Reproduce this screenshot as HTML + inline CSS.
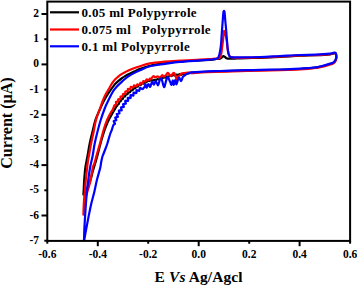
<!DOCTYPE html>
<html><head><meta charset="utf-8"><style>
html,body{margin:0;padding:0;background:#fff;}
body{width:357px;height:285px;overflow:hidden;position:relative;}
svg{position:absolute;left:0;top:0;}
text{font-family:"Liberation Serif",serif;font-weight:bold;}
</style></head><body>
<svg width="357" height="285" viewBox="0 0 357 285">
<g fill="none" stroke-linejoin="round" stroke-linecap="round" stroke-width="2.2">
<path stroke="#000" d="M83.40,194.60 C83.45,193.83 83.57,192.43 83.70,190.00 C83.83,187.57 83.93,183.67 84.20,180.00 C84.47,176.33 84.75,172.00 85.30,168.00 C85.85,164.00 86.78,160.00 87.50,156.00 C88.22,152.00 88.78,148.00 89.60,144.00 C90.42,140.00 91.43,136.00 92.40,132.00 C93.37,128.00 94.20,123.67 95.40,120.00 C96.60,116.33 98.45,112.67 99.60,110.00 C100.75,107.33 101.42,105.83 102.30,104.00 C103.18,102.17 104.02,100.58 104.90,99.00 C105.78,97.42 106.67,95.97 107.60,94.50 C108.53,93.03 109.55,91.55 110.50,90.20 C111.45,88.85 112.45,87.50 113.30,86.40 C114.15,85.30 114.73,84.53 115.60,83.60 C116.47,82.67 117.43,81.70 118.50,80.80 C119.57,79.90 120.92,78.98 122.00,78.20 C123.08,77.42 124.00,76.70 125.00,76.10 C126.00,75.50 126.50,75.35 128.00,74.60 C129.50,73.85 132.00,72.55 134.00,71.60 C136.00,70.65 137.33,69.87 140.00,68.90 C142.67,67.93 145.83,66.75 150.00,65.80 C154.17,64.85 160.00,63.92 165.00,63.20 C170.00,62.48 174.17,61.97 180.00,61.50 C185.83,61.03 194.67,60.72 200.00,60.40 C205.33,60.08 209.33,59.83 212.00,59.60 C214.67,59.37 214.67,59.17 216.00,59.00 C217.33,58.83 219.00,58.87 220.00,58.60 C221.00,58.33 221.43,57.80 222.00,57.40 C222.57,57.00 222.93,56.30 223.40,56.20 C223.87,56.10 224.28,56.47 224.80,56.80 C225.32,57.13 225.80,57.88 226.50,58.20 C227.20,58.52 227.58,58.63 229.00,58.70 C230.42,58.77 233.17,58.67 235.00,58.60 C236.83,58.53 235.83,58.43 240.00,58.30 C244.17,58.17 253.33,58.03 260.00,57.80 C266.67,57.57 273.33,57.25 280.00,56.90 C286.67,56.55 294.00,55.98 300.00,55.70 C306.00,55.42 311.00,55.43 316.00,55.20 C321.00,54.97 326.92,54.62 330.00,54.30 C333.08,53.98 333.53,53.38 334.50,53.30 C335.47,53.22 335.52,53.38 335.80,53.80 C336.08,54.22 336.15,55.02 336.20,55.80 C336.25,56.58 336.27,57.67 336.10,58.50 C335.93,59.33 335.63,60.12 335.20,60.80 C334.77,61.48 334.17,62.12 333.50,62.60 C332.83,63.08 332.43,63.27 331.20,63.70 C329.97,64.13 327.80,64.73 326.10,65.20 C324.40,65.67 322.68,66.10 321.00,66.50 C319.32,66.90 318.17,67.28 316.00,67.60 C313.83,67.92 310.67,68.17 308.00,68.40 C305.33,68.63 303.00,68.82 300.00,69.00 C297.00,69.18 293.33,69.37 290.00,69.50 C286.67,69.63 285.00,69.68 280.00,69.80 C275.00,69.92 265.00,70.10 260.00,70.20 C255.00,70.30 253.33,70.32 250.00,70.40 C246.67,70.48 244.17,70.57 240.00,70.70 C235.83,70.83 229.33,71.07 225.00,71.20 C220.67,71.33 218.17,71.35 214.00,71.50 C209.83,71.65 203.67,71.90 200.00,72.10 C196.33,72.30 194.33,72.42 192.00,72.70 C189.67,72.98 187.26,73.51 186.00,73.80 C184.74,74.09 185.00,74.39 184.46,74.42 C183.91,74.45 183.28,73.94 182.74,74.00 C182.19,74.07 181.72,74.78 181.19,74.81 C180.66,74.84 180.07,74.16 179.54,74.18 C179.00,74.21 178.52,74.91 177.97,74.96 C177.43,75.01 176.80,74.40 176.27,74.48 C175.74,74.55 175.31,75.31 174.78,75.40 C174.24,75.49 173.58,74.93 173.04,75.03 C172.51,75.14 172.12,75.93 171.59,76.04 C171.06,76.15 170.38,75.59 169.85,75.72 C169.33,75.84 168.96,76.65 168.43,76.78 C167.91,76.90 167.21,76.34 166.69,76.47 C166.17,76.61 165.83,77.42 165.30,77.57 C164.78,77.72 164.07,77.22 163.55,77.37 C163.03,77.53 162.71,78.35 162.19,78.51 C161.67,78.66 160.95,78.15 160.43,78.31 C159.91,78.46 159.58,79.28 159.06,79.43 C158.54,79.57 157.83,79.04 157.31,79.19 C156.79,79.34 156.44,80.19 155.93,80.30 C155.42,80.41 154.79,79.82 154.24,79.87 C153.69,79.91 153.17,80.59 152.63,80.60 C152.08,80.61 151.50,79.89 150.99,79.93 C150.47,79.97 150.08,80.71 149.54,80.86 C149.01,81.01 148.28,80.61 147.77,80.81 C147.27,81.01 147.03,81.85 146.52,82.07 C146.02,82.29 145.25,81.89 144.77,82.12 C144.29,82.36 144.11,83.23 143.63,83.48 C143.14,83.72 142.34,83.33 141.86,83.58 C141.38,83.82 141.22,84.70 140.74,84.96 C140.26,85.21 139.45,84.84 138.98,85.09 C138.50,85.35 138.38,86.20 137.91,86.48 C137.44,86.76 136.62,86.49 136.17,86.79 C135.71,87.08 135.64,87.96 135.19,88.26 C134.74,88.57 133.90,88.32 133.47,88.63 C133.03,88.95 133.01,89.84 132.58,90.16 C132.14,90.49 131.29,90.24 130.86,90.57 C130.42,90.90 130.42,91.79 129.99,92.12 C129.56,92.45 128.70,92.23 128.28,92.56 C127.85,92.89 127.88,93.75 127.47,94.11 C127.05,94.47 126.20,94.35 125.80,94.72 C125.41,95.09 125.49,95.96 125.10,96.34 C124.71,96.72 123.81,96.61 123.44,97.00 C123.08,97.39 123.26,98.28 122.90,98.69 C122.54,99.10 121.66,99.05 121.30,99.45 C120.95,99.85 121.12,100.67 120.78,101.11 C120.45,101.54 119.59,101.59 119.28,102.04 C118.97,102.48 119.18,103.29 118.92,103.77 C118.66,104.25 118.35,104.06 117.70,104.90 C117.05,105.74 115.90,107.37 115.00,108.80 C114.10,110.23 113.22,111.87 112.30,113.50 C111.38,115.13 110.30,117.10 109.50,118.60 C108.70,120.10 108.25,120.77 107.50,122.50 C106.75,124.23 105.80,126.75 105.00,129.00 C104.20,131.25 103.47,133.50 102.70,136.00 C101.93,138.50 101.30,140.67 100.40,144.00 C99.50,147.33 98.20,152.67 97.30,156.00 C96.40,159.33 95.78,161.33 95.00,164.00 C94.22,166.67 93.35,169.33 92.60,172.00 C91.85,174.67 91.22,177.67 90.50,180.00 C89.78,182.33 89.10,184.17 88.30,186.00 C87.50,187.83 86.48,189.57 85.70,191.00 C84.92,192.43 83.95,194.00 83.60,194.60"/>
<path stroke="#ff0000" d="M83.40,214.70 C83.45,213.25 83.57,208.78 83.70,206.00 C83.83,203.22 84.02,200.33 84.20,198.00 C84.38,195.67 84.60,194.33 84.80,192.00 C85.00,189.67 85.20,186.33 85.40,184.00 C85.60,181.67 85.72,180.67 86.00,178.00 C86.28,175.33 86.75,171.00 87.10,168.00 C87.45,165.00 87.77,162.17 88.10,160.00 C88.43,157.83 88.62,157.67 89.10,155.00 C89.58,152.33 90.25,147.83 91.00,144.00 C91.75,140.17 92.77,136.00 93.60,132.00 C94.43,128.00 94.90,124.00 96.00,120.00 C97.10,116.00 99.15,111.00 100.20,108.00 C101.25,105.00 101.57,103.93 102.30,102.00 C103.03,100.07 103.77,98.15 104.60,96.40 C105.43,94.65 106.43,93.03 107.30,91.50 C108.17,89.97 108.97,88.63 109.80,87.20 C110.63,85.77 111.43,84.18 112.30,82.90 C113.17,81.62 113.97,80.60 115.00,79.50 C116.03,78.40 117.33,77.23 118.50,76.30 C119.67,75.37 120.92,74.58 122.00,73.90 C123.08,73.22 124.00,72.72 125.00,72.20 C126.00,71.68 126.50,71.47 128.00,70.80 C129.50,70.13 132.00,68.97 134.00,68.20 C136.00,67.43 137.33,67.00 140.00,66.20 C142.67,65.40 145.83,64.15 150.00,63.40 C154.17,62.65 160.00,62.18 165.00,61.70 C170.00,61.22 174.17,60.83 180.00,60.50 C185.83,60.17 194.67,59.95 200.00,59.70 C205.33,59.45 209.33,59.17 212.00,59.00 C214.67,58.83 214.75,58.83 216.00,58.70 C217.25,58.57 218.63,58.98 219.50,58.20 C220.37,57.42 220.78,55.70 221.20,54.00 C221.62,52.30 221.73,50.00 222.00,48.00 C222.27,46.00 222.57,43.92 222.80,42.00 C223.03,40.08 223.20,38.30 223.40,36.50 C223.60,34.70 223.77,31.92 224.00,31.20 C224.23,30.48 224.48,31.40 224.80,32.20 C225.12,33.00 225.57,34.53 225.90,36.00 C226.23,37.47 226.53,39.00 226.80,41.00 C227.07,43.00 227.22,45.92 227.50,48.00 C227.78,50.08 228.12,52.08 228.50,53.50 C228.88,54.92 229.05,55.82 229.80,56.50 C230.55,57.18 232.47,57.39 233.00,57.60 C233.53,57.81 231.83,57.71 233.00,57.75 C234.17,57.79 235.50,57.90 240.00,57.85 C244.50,57.80 253.33,57.68 260.00,57.45 C266.67,57.22 273.33,56.78 280.00,56.45 C286.67,56.12 294.00,55.68 300.00,55.45 C306.00,55.22 311.00,55.28 316.00,55.05 C321.00,54.82 326.92,54.38 330.00,54.05 C333.08,53.72 333.53,53.12 334.50,53.05 C335.47,52.98 335.48,53.13 335.80,53.65 C336.12,54.18 336.32,55.33 336.40,56.20 C336.48,57.08 336.47,58.07 336.30,58.90 C336.13,59.73 335.83,60.52 335.40,61.20 C334.97,61.88 334.37,62.52 333.70,63.00 C333.03,63.48 332.63,63.67 331.40,64.10 C330.17,64.53 328.00,65.13 326.30,65.60 C324.60,66.07 322.88,66.50 321.20,66.90 C319.52,67.30 318.37,67.68 316.20,68.00 C314.03,68.32 310.87,68.57 308.20,68.80 C305.53,69.03 303.20,69.22 300.20,69.40 C297.20,69.58 293.53,69.77 290.20,69.90 C286.87,70.03 285.20,70.08 280.20,70.20 C275.20,70.32 265.20,70.50 260.20,70.60 C255.20,70.70 253.53,70.72 250.20,70.80 C246.87,70.88 244.37,70.97 240.20,71.10 C236.03,71.23 229.53,71.47 225.20,71.60 C220.87,71.73 218.37,71.75 214.20,71.90 C210.03,72.05 203.87,72.30 200.20,72.50 C196.53,72.70 193.90,73.10 192.20,73.10 C190.50,73.10 190.72,72.57 190.00,72.50 C189.28,72.43 188.87,72.60 187.90,72.70 C186.93,72.80 185.27,72.98 184.20,73.10 C183.13,73.22 182.25,73.02 181.50,73.40 C180.75,73.78 180.30,74.83 179.70,75.40 C179.10,75.97 178.38,75.98 177.90,76.80 C177.42,77.62 177.12,80.22 176.80,80.30 C176.48,80.38 176.43,78.50 176.00,77.30 C175.57,76.10 174.80,73.65 174.20,73.10 C173.60,72.55 173.00,73.52 172.40,74.00 C171.80,74.48 171.37,76.18 170.60,76.00 C169.83,75.82 168.57,73.07 167.80,72.90 C167.03,72.73 166.67,74.38 166.00,75.00 C165.33,75.62 164.45,76.57 163.80,76.60 C163.15,76.63 162.73,75.05 162.10,75.20 C161.47,75.35 160.77,77.30 160.00,77.50 C159.23,77.70 158.27,76.40 157.50,76.40 C156.73,76.40 156.10,77.53 155.40,77.50 C154.70,77.47 154.08,75.88 153.30,76.20 C152.52,76.52 151.25,79.00 150.70,79.40 C150.15,79.80 150.32,78.49 150.00,78.60 C149.68,78.71 149.35,79.93 148.76,80.06 C148.17,80.19 146.99,79.12 146.47,79.37 C145.96,79.63 146.21,81.33 145.69,81.60 C145.18,81.88 143.87,80.76 143.38,81.04 C142.88,81.33 143.20,83.02 142.71,83.31 C142.22,83.60 140.96,82.51 140.44,82.79 C139.92,83.07 140.10,84.75 139.60,85.00 C139.09,85.24 137.97,84.03 137.42,84.25 C136.86,84.47 136.81,86.13 136.26,86.31 C135.70,86.49 134.63,85.13 134.11,85.32 C133.58,85.52 133.64,87.26 133.10,87.50 C132.56,87.75 131.32,86.51 130.85,86.79 C130.37,87.07 130.76,88.81 130.27,89.17 C129.78,89.53 128.34,88.60 127.91,88.96 C127.49,89.32 128.15,90.92 127.73,91.35 C127.30,91.77 125.77,91.08 125.37,91.50 C124.97,91.92 125.73,93.45 125.33,93.87 C124.93,94.29 123.37,93.60 122.97,94.02 C122.57,94.44 123.33,95.97 122.93,96.39 C122.53,96.81 120.97,96.12 120.57,96.54 C120.17,96.95 120.91,98.47 120.51,98.90 C120.12,99.33 118.55,98.71 118.18,99.14 C117.81,99.57 118.66,101.04 118.29,101.50 C117.92,101.96 116.29,101.44 115.95,101.90 C115.61,102.35 116.48,103.69 116.26,104.24 C116.03,104.79 115.23,104.24 114.60,105.20 C113.97,106.16 113.27,108.53 112.50,110.00 C111.73,111.47 110.90,112.33 110.00,114.00 C109.10,115.67 108.02,117.83 107.10,120.00 C106.18,122.17 105.32,124.50 104.50,127.00 C103.68,129.50 102.98,132.17 102.20,135.00 C101.42,137.83 100.77,140.50 99.80,144.00 C98.83,147.50 97.28,152.83 96.40,156.00 C95.52,159.17 95.12,161.00 94.50,163.00 C93.88,165.00 93.35,165.17 92.70,168.00 C92.05,170.83 91.25,176.83 90.60,180.00 C89.95,183.17 89.35,185.00 88.80,187.00 C88.25,189.00 87.82,190.17 87.30,192.00 C86.78,193.83 86.17,196.00 85.70,198.00 C85.23,200.00 84.88,201.22 84.50,204.00 C84.12,206.78 83.58,212.92 83.40,214.70"/>
<path stroke="#0000ff" d="M84.00,240.30 C84.07,238.25 84.22,232.05 84.40,228.00 C84.58,223.95 84.85,220.00 85.10,216.00 C85.35,212.00 85.60,208.00 85.90,204.00 C86.20,200.00 86.50,196.00 86.90,192.00 C87.30,188.00 87.78,184.00 88.30,180.00 C88.82,176.00 89.28,172.00 90.00,168.00 C90.72,164.00 91.83,160.00 92.60,156.00 C93.37,152.00 93.80,148.00 94.60,144.00 C95.40,140.00 96.38,136.00 97.40,132.00 C98.42,128.00 99.45,124.00 100.70,120.00 C101.95,116.00 103.75,111.00 104.90,108.00 C106.05,105.00 106.67,104.00 107.60,102.00 C108.53,100.00 109.52,97.90 110.50,96.00 C111.48,94.10 112.40,92.22 113.50,90.60 C114.60,88.98 116.10,87.42 117.10,86.30 C118.10,85.18 118.68,84.68 119.50,83.90 C120.32,83.12 121.08,82.42 122.00,81.60 C122.92,80.78 124.00,79.82 125.00,79.00 C126.00,78.18 126.50,77.68 128.00,76.70 C129.50,75.72 132.00,74.17 134.00,73.10 C136.00,72.03 137.33,71.45 140.00,70.30 C142.67,69.15 145.83,67.27 150.00,66.20 C154.17,65.13 160.00,64.62 165.00,63.90 C170.00,63.18 174.17,62.48 180.00,61.90 C185.83,61.32 194.67,60.80 200.00,60.40 C205.33,60.00 209.50,59.72 212.00,59.50 C214.50,59.28 214.20,59.25 215.00,59.10 C215.80,58.95 216.23,58.90 216.80,58.60 C217.37,58.30 217.95,58.07 218.40,57.30 C218.85,56.53 219.13,55.55 219.50,54.00 C219.87,52.45 220.32,50.00 220.60,48.00 C220.88,46.00 221.03,44.00 221.20,42.00 C221.37,40.00 221.45,38.17 221.60,36.00 C221.75,33.83 221.92,31.50 222.10,29.00 C222.28,26.50 222.53,23.25 222.70,21.00 C222.87,18.75 222.97,17.03 223.10,15.50 C223.23,13.97 223.35,12.57 223.50,11.80 C223.65,11.03 223.83,10.90 224.00,10.90 C224.17,10.90 224.35,11.03 224.50,11.80 C224.65,12.57 224.77,13.97 224.90,15.50 C225.03,17.03 225.12,18.92 225.30,21.00 C225.48,23.08 225.78,25.50 226.00,28.00 C226.22,30.50 226.42,33.67 226.60,36.00 C226.78,38.33 226.93,40.00 227.10,42.00 C227.27,44.00 227.37,46.08 227.60,48.00 C227.83,49.92 228.15,52.12 228.50,53.50 C228.85,54.88 229.23,55.68 229.70,56.30 C230.17,56.92 230.75,57.03 231.30,57.20 C231.85,57.37 231.55,57.27 233.00,57.30 C234.45,57.33 235.50,57.45 240.00,57.40 C244.50,57.35 253.33,57.23 260.00,57.00 C266.67,56.77 273.33,56.33 280.00,56.00 C286.67,55.67 294.00,55.23 300.00,55.00 C306.00,54.77 311.00,54.83 316.00,54.60 C321.00,54.37 326.92,53.93 330.00,53.60 C333.08,53.27 333.53,52.67 334.50,52.60 C335.47,52.53 335.52,52.72 335.80,53.20 C336.08,53.68 336.15,54.67 336.20,55.50 C336.25,56.33 336.27,57.37 336.10,58.20 C335.93,59.03 335.63,59.82 335.20,60.50 C334.77,61.18 334.17,61.82 333.50,62.30 C332.83,62.78 332.43,62.97 331.20,63.40 C329.97,63.83 327.80,64.43 326.10,64.90 C324.40,65.37 322.68,65.80 321.00,66.20 C319.32,66.60 318.17,66.98 316.00,67.30 C313.83,67.62 310.67,67.87 308.00,68.10 C305.33,68.33 303.00,68.52 300.00,68.70 C297.00,68.88 293.33,69.07 290.00,69.20 C286.67,69.33 285.00,69.38 280.00,69.50 C275.00,69.62 265.00,69.80 260.00,69.90 C255.00,70.00 253.33,70.02 250.00,70.10 C246.67,70.18 244.17,70.27 240.00,70.40 C235.83,70.53 229.33,70.77 225.00,70.90 C220.67,71.03 218.17,71.05 214.00,71.20 C209.83,71.35 203.67,71.60 200.00,71.80 C196.33,72.00 193.75,72.22 192.00,72.40 C190.25,72.58 190.18,72.70 189.50,72.90 C188.82,73.10 188.62,73.25 187.90,73.60 C187.18,73.95 186.03,74.45 185.20,75.00 C184.37,75.55 183.58,75.88 182.90,76.90 C182.22,77.92 181.78,80.97 181.10,81.10 C180.42,81.23 179.57,77.17 178.80,77.70 C178.03,78.23 177.12,83.92 176.50,84.30 C175.88,84.68 175.55,79.88 175.10,80.00 C174.65,80.12 174.18,84.93 173.80,85.00 C173.42,85.07 173.18,80.43 172.80,80.40 C172.42,80.37 171.95,84.57 171.50,84.80 C171.05,85.03 170.72,83.07 170.10,81.80 C169.48,80.53 168.43,77.50 167.80,77.20 C167.17,76.90 166.73,78.83 166.30,80.00 C165.87,81.17 165.60,83.03 165.20,84.20 C164.80,85.37 164.50,87.87 163.90,87.00 C163.30,86.13 162.28,80.18 161.60,79.00 C160.92,77.82 160.40,78.83 159.80,79.90 C159.20,80.97 158.68,85.20 158.00,85.40 C157.32,85.60 156.38,81.22 155.70,81.10 C155.02,80.98 154.52,84.55 153.90,84.70 C153.28,84.85 152.62,81.63 152.00,82.00 C151.38,82.37 150.80,86.57 150.20,86.90 C149.60,87.23 149.00,83.85 148.40,84.00 C147.80,84.15 147.07,87.77 146.60,87.80 C146.13,87.83 145.93,84.33 145.60,84.20 C145.27,84.07 144.87,86.47 144.60,87.00 C144.33,87.53 144.34,87.05 144.00,87.40 C143.66,87.75 143.24,89.01 142.56,89.09 C141.88,89.17 140.47,87.62 139.92,87.90 C139.37,88.18 139.82,90.38 139.26,90.75 C138.69,91.12 137.00,89.73 136.54,90.11 C136.07,90.49 136.96,92.60 136.46,93.02 C135.96,93.45 134.07,92.23 133.56,92.65 C133.05,93.07 133.91,95.14 133.39,95.54 C132.88,95.95 130.93,94.66 130.47,95.07 C130.02,95.48 131.12,97.54 130.66,97.99 C130.21,98.45 128.17,97.34 127.74,97.80 C127.32,98.26 128.54,100.23 128.11,100.74 C127.69,101.24 125.56,100.34 125.19,100.83 C124.82,101.31 126.24,103.09 125.88,103.66 C125.52,104.22 123.34,103.65 123.01,104.22 C122.68,104.78 124.22,106.49 123.88,107.02 C123.54,107.56 121.34,106.89 120.98,107.43 C120.62,107.97 122.09,109.74 121.73,110.27 C121.37,110.80 119.19,110.06 118.82,110.59 C118.46,111.12 119.87,112.85 119.52,113.43 C119.17,114.01 116.97,113.51 116.71,114.06 C116.45,114.60 118.21,116.12 117.95,116.71 C117.70,117.30 115.42,117.01 115.16,117.59 C114.91,118.18 116.67,119.60 116.42,120.20 C116.18,120.80 113.91,120.60 113.67,121.20 C113.44,121.80 115.09,123.13 115.02,123.80 C114.96,124.47 113.84,124.17 113.30,125.20 C112.76,126.23 112.27,128.70 111.80,130.00 C111.33,131.30 111.00,131.58 110.50,133.00 C110.00,134.42 109.35,136.67 108.80,138.50 C108.25,140.33 107.83,142.08 107.20,144.00 C106.57,145.92 105.63,148.33 105.00,150.00 C104.37,151.67 103.85,152.83 103.40,154.00 C102.95,155.17 102.67,155.67 102.30,157.00 C101.93,158.33 101.55,160.17 101.20,162.00 C100.85,163.83 100.92,165.00 100.20,168.00 C99.48,171.00 97.88,176.00 96.90,180.00 C95.92,184.00 95.25,188.00 94.30,192.00 C93.35,196.00 92.13,200.00 91.20,204.00 C90.27,208.00 89.50,212.00 88.70,216.00 C87.90,220.00 87.15,223.95 86.40,228.00 C85.65,232.05 84.57,238.25 84.20,240.30"/>
</g>
<g stroke="#000" stroke-width="2" fill="none">
<rect x="47.3" y="1.6" width="302.8" height="239.3"/>
<line x1="41.5" y1="14.0" x2="47.3" y2="14.0"/><line x1="44.3" y1="39.2" x2="47.3" y2="39.2"/><line x1="41.5" y1="64.4" x2="47.3" y2="64.4"/><line x1="44.3" y1="89.6" x2="47.3" y2="89.6"/><line x1="41.5" y1="114.8" x2="47.3" y2="114.8"/><line x1="44.3" y1="139.9" x2="47.3" y2="139.9"/><line x1="41.5" y1="165.1" x2="47.3" y2="165.1"/><line x1="44.3" y1="190.3" x2="47.3" y2="190.3"/><line x1="41.5" y1="215.5" x2="47.3" y2="215.5"/><line x1="44.3" y1="240.7" x2="47.3" y2="240.7"/>
<line x1="47.3" y1="240.9" x2="47.3" y2="243.7"/><line x1="97.8" y1="240.9" x2="97.8" y2="246.2"/><line x1="148.2" y1="240.9" x2="148.2" y2="243.7"/><line x1="198.7" y1="240.9" x2="198.7" y2="246.2"/><line x1="249.2" y1="240.9" x2="249.2" y2="243.7"/><line x1="299.6" y1="240.9" x2="299.6" y2="246.2"/><line x1="350.1" y1="240.9" x2="350.1" y2="243.7"/>
</g>
<g stroke-width="2.2">
<line x1="50" y1="12.3" x2="79" y2="12.3" stroke="#000"/>
<line x1="50" y1="29.5" x2="79" y2="29.5" stroke="#ff0000"/>
<line x1="50" y1="46.3" x2="79" y2="46.3" stroke="#0000ff"/>
</g>
<g font-size="13" letter-spacing="0.33" fill="#000">
<text x="81.5" y="16.6" xml:space="preserve">0.05 ml Polypyrrole</text>
<text x="81.5" y="34.1" xml:space="preserve">0.075 ml   Polypyrrole</text>
<text x="81.5" y="51.4" xml:space="preserve">0.1 ml Polypyrrole</text>
</g>
<g font-size="11.5" text-anchor="middle" fill="#000"><text x="47.3" y="258">-0.6</text><text x="97.8" y="258">-0.4</text><text x="148.2" y="258">-0.2</text><text x="198.7" y="258">0.0</text><text x="249.2" y="258">0.2</text><text x="299.6" y="258">0.4</text><text x="350.1" y="258">0.6</text></g>
<g font-size="11.5" text-anchor="end" fill="#000"><text x="39" y="17.0">2</text><text x="39" y="42.2">1</text><text x="39" y="67.4">0</text><text x="39" y="92.6">-1</text><text x="39" y="117.8">-2</text><text x="39" y="142.9">-3</text><text x="39" y="168.1">-4</text><text x="39" y="193.3">-5</text><text x="39" y="218.5">-6</text><text x="39" y="243.7">-7</text></g>
<text x="154.6" y="281.8" font-size="15.4" letter-spacing="0.15" fill="#000">E <tspan font-style="italic">Vs</tspan> Ag/Agcl</text>
<text transform="translate(11.6,168.8) rotate(-90)" font-size="16.1" fill="#000">Current (μA)</text>
</svg>
</body></html>
